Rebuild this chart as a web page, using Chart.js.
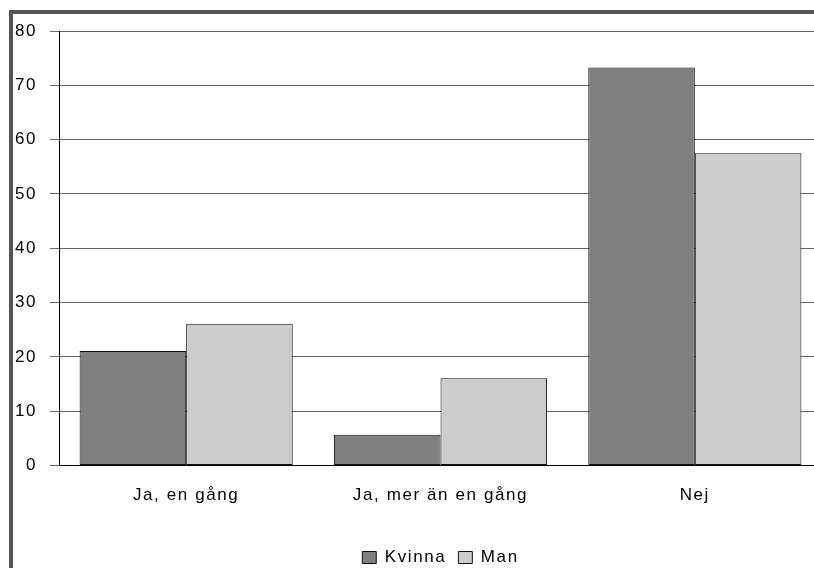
<!DOCTYPE html>
<html lang="sv">
<head>
  <meta charset="UTF-8" />
  <title>Kvinna / Man</title>
  <script src="https://cdn.jsdelivr.net/npm/chart.js"></script>
  <style>
    * { box-sizing: border-box; margin: 0; padding: 0; }
    html, body { width: 814px; height: 568px; overflow: hidden; background: white; }
    .frame {
      position: absolute; left: 9px; top: 10px;
      width: 838px; height: 572px;
      border: 4px solid #555;
    }
    .chart-box { position: absolute; left: 0; top: 0; width: 830px; height: 564px; }
  </style>
</head>
<body>

<div class="frame">
  <div class="chart-box">
    <canvas id="answersChart"></canvas>
  </div>
</div>

<script>
  const categories = ['Ja, en gång', 'Ja, mer än en gång', 'Nej'];
  const kvinna = [21.1, 5.7, 73.3];
  const man = [26.1, 16.1, 57.5];
  const seriesNames = ['Kvinna', 'Man'];

  const FONT = "'Liberation Sans', Arial, sans-serif";

  // the source renders text with a little extra letter spacing
  const spacingPlugin = {
    id: 'spacing',
    beforeLayout(chart) { chart.ctx.letterSpacing = '1.6px'; },
    beforeDraw(chart) { chart.ctx.letterSpacing = '1.6px'; }
  };

  const ctx = document.getElementById('answersChart').getContext('2d');
  new Chart(ctx, {
    type: 'bar',
    data: {
      labels: categories,
      datasets: [
        {
          label: seriesNames[0],
          data: kvinna,
          backgroundColor: '#808080',
          borderColor: '#111',
          borderWidth: 1,
          borderSkipped: false
        },
        {
          label: seriesNames[1],
          data: man,
          backgroundColor: '#cccccc',
          borderColor: '#111',
          borderWidth: 1,
          borderSkipped: false
        }
      ]
    },
    options: {
      responsive: true,
      maintainAspectRatio: false,
      animation: false,
      datasets: { bar: { categoryPercentage: 0.838, barPercentage: 1.0 } },
      layout: { padding: { top: 17, right: 21, bottom: 2, left: 0 } },
      plugins: {
        tooltip: { enabled: false },
        legend: {
          position: 'bottom',
          fullSize: false,
          labels: {
            color: '#000',
            font: { family: FONT, size: 17 },
            boxWidth: 14,
            boxHeight: 12,
            padding: 12
          }
        }
      },
      scales: {
        x: {
          afterFit(scale) { scale.height += 11; },
          grid: { display: false, drawTicks: false },
          border: { display: true, color: '#000', width: 1 },
          ticks: { color: '#000', font: { family: FONT, size: 17 }, padding: 20, maxRotation: 0 }
        },
        y: {
          min: 0,
          max: 80,
          afterFit(scale) {
            scale.width = 46;
            scale.paddingTop = 0;
            scale.paddingBottom = 0;
          },
          grid: { color: '#666', lineWidth: 1, tickLength: 9 },
          border: { display: true, color: '#000', width: 1 },
          ticks: { stepSize: 10, color: '#000', font: { family: FONT, size: 17 }, padding: 13 }
        }
      }
    },
    plugins: [spacingPlugin]
  });
</script>

</body>
</html>
